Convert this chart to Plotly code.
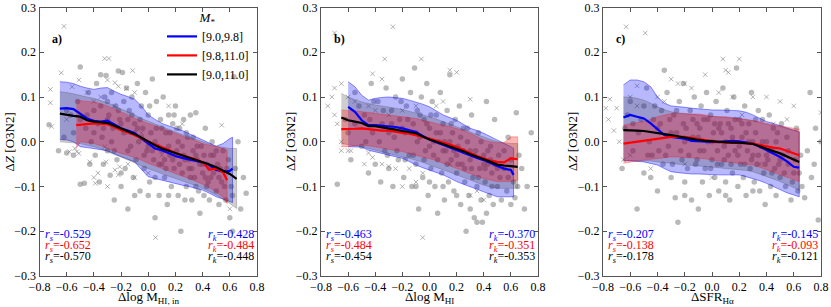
import plotly.graph_objects as go

# ---------------- data ----------------
ticks_x = [-0.8, -0.6, -0.4, -0.2, 0.0, 0.2, 0.4, 0.6, 0.8]
ticks_y = [-0.3, -0.2, -0.1, 0.0, 0.1, 0.2, 0.3]
legend_labels = ["[9.0,9.8]", "[9.8,11.0]", "[9.0,11.0]"]
x_titles = ["Δlog M<sub>HI, in</sub>", "Δlog M<sub>HI</sub>", "ΔSFR<sub>Hα</sub>"]
panel_tags = ["a)", "b)", "c)"]

# panel a  (running medians and 1-sigma bands)
a_blue_x = [-0.65,-0.6,-0.55,-0.5,-0.45,-0.4,-0.35,-0.3,-0.25,-0.2,-0.15,-0.1,-0.05,0.0,0.05,0.1,0.15,0.2,0.25,0.3,0.35,0.4,0.45,0.5,0.55,0.6,0.62]
a_blue_med = [0.074,0.075,0.073,0.062,0.052,0.047,0.045,0.047,0.038,0.030,0.025,0.019,0.007,-0.005,-0.015,-0.019,-0.025,-0.032,-0.036,-0.039,-0.042,-0.046,-0.052,-0.063,-0.067,-0.065,-0.060]
a_blue_hi = [0.134,0.133,0.130,0.124,0.120,0.117,0.120,0.121,0.113,0.106,0.101,0.095,0.080,0.060,0.050,0.041,0.036,0.030,0.025,0.019,0.012,0.004,-0.003,-0.010,-0.004,0.007,0.010]
a_blue_lo = [0.005,0.004,0.0,-0.011,-0.013,-0.015,-0.017,-0.020,-0.027,-0.033,-0.039,-0.045,-0.062,-0.078,-0.082,-0.086,-0.089,-0.093,-0.097,-0.100,-0.104,-0.108,-0.115,-0.123,-0.128,-0.134,-0.136]
a_red_x = [-0.53,-0.5,-0.45,-0.4,-0.35,-0.3,-0.25,-0.2,-0.15,-0.1,-0.05,0.0,0.05,0.1,0.15,0.2,0.25,0.3,0.35,0.4,0.45,0.5,0.55,0.58]
a_red_med = [0.037,0.038,0.040,0.041,0.040,0.039,0.033,0.026,0.021,0.015,0.008,0.0,-0.006,-0.011,-0.018,-0.025,-0.030,-0.034,-0.040,-0.046,-0.062,-0.060,-0.068,-0.086]
a_red_hi = [0.093,0.092,0.090,0.089,0.085,0.080,0.074,0.067,0.060,0.052,0.046,0.041,0.036,0.030,0.025,0.019,0.013,0.007,0.002,-0.004,-0.008,-0.011,-0.015,-0.019]
a_red_lo = [-0.015,0.0,-0.002,-0.004,-0.009,-0.015,-0.020,-0.026,-0.030,-0.035,-0.041,-0.048,-0.054,-0.060,-0.066,-0.071,-0.077,-0.082,-0.088,-0.095,-0.103,-0.112,-0.124,-0.138]
a_blk_x = [-0.65,-0.6,-0.55,-0.5,-0.45,-0.4,-0.35,-0.3,-0.25,-0.2,-0.15,-0.1,-0.05,0.0,0.05,0.1,0.15,0.2,0.25,0.3,0.35,0.4,0.45,0.5,0.55,0.6,0.65]
a_blk_med = [0.063,0.060,0.058,0.056,0.048,0.045,0.043,0.042,0.036,0.030,0.024,0.017,0.009,0.0,-0.008,-0.015,-0.020,-0.026,-0.031,-0.036,-0.041,-0.046,-0.051,-0.057,-0.064,-0.072,-0.083]
a_blk_hi = [0.112,0.110,0.107,0.104,0.100,0.097,0.092,0.087,0.081,0.074,0.067,0.060,0.052,0.045,0.040,0.034,0.028,0.022,0.016,0.011,0.005,0.0,-0.005,-0.010,-0.013,-0.015,-0.015]
a_blk_lo = [0.0,-0.001,-0.002,-0.004,-0.008,-0.011,-0.016,-0.022,-0.028,-0.034,-0.040,-0.047,-0.054,-0.060,-0.066,-0.071,-0.077,-0.082,-0.088,-0.093,-0.098,-0.104,-0.111,-0.119,-0.128,-0.138,-0.149]

# panel b
b_blue_x = [-0.6,-0.55,-0.5,-0.45,-0.4,-0.35,-0.3,-0.25,-0.2,-0.15,-0.1,-0.05,0.0,0.05,0.1,0.15,0.2,0.25,0.3,0.35,0.4,0.45,0.5,0.55,0.6,0.62]
b_blue_med = [0.078,0.067,0.048,0.037,0.037,0.036,0.035,0.033,0.030,0.026,0.022,0.013,0.005,-0.001,-0.007,-0.013,-0.019,-0.025,-0.030,-0.036,-0.041,-0.048,-0.054,-0.060,-0.063,-0.074]
b_blue_hi = [0.134,0.123,0.104,0.093,0.097,0.099,0.100,0.099,0.097,0.093,0.089,0.084,0.078,0.069,0.060,0.054,0.048,0.039,0.030,0.025,0.019,0.012,0.004,-0.004,-0.011,-0.015]
b_blue_lo = [-0.011,-0.011,-0.012,-0.019,-0.022,-0.026,-0.030,-0.034,-0.037,-0.044,-0.052,-0.058,-0.063,-0.069,-0.074,-0.081,-0.089,-0.095,-0.100,-0.106,-0.112,-0.118,-0.123,-0.123,-0.123,-0.123]
b_red_x = [-0.65,-0.6,-0.55,-0.5,-0.45,-0.4,-0.35,-0.3,-0.25,-0.2,-0.15,-0.1,-0.05,0.0,0.05,0.1,0.15,0.2,0.25,0.3,0.35,0.4,0.45,0.5,0.55,0.6,0.65]
b_red_med = [0.028,0.028,0.029,0.030,0.028,0.026,0.025,0.025,0.022,0.020,0.018,0.015,0.011,0.007,0.003,-0.002,-0.006,-0.011,-0.018,-0.026,-0.032,-0.037,-0.042,-0.045,-0.046,-0.037,-0.039]
b_red_hi = [0.071,0.070,0.069,0.067,0.065,0.063,0.061,0.060,0.058,0.056,0.054,0.052,0.049,0.045,0.041,0.037,0.034,0.030,0.025,0.019,0.012,0.004,0.0,-0.002,-0.002,0.011,0.011]
b_red_lo = [-0.011,-0.011,-0.009,-0.007,-0.009,-0.011,-0.014,-0.017,-0.019,-0.022,-0.026,-0.030,-0.033,-0.037,-0.042,-0.048,-0.054,-0.060,-0.066,-0.071,-0.077,-0.082,-0.086,-0.089,-0.089,-0.089,-0.086]
b_blk_x = [-0.65,-0.6,-0.55,-0.5,-0.45,-0.4,-0.35,-0.3,-0.25,-0.2,-0.15,-0.1,-0.05,0.0,0.05,0.1,0.15,0.2,0.25,0.3,0.35,0.4,0.45,0.5,0.55,0.6,0.65]
b_blk_med = [0.054,0.048,0.045,0.042,0.035,0.035,0.032,0.030,0.027,0.024,0.021,0.019,0.012,0.005,0.0,-0.005,-0.010,-0.015,-0.021,-0.028,-0.033,-0.039,-0.045,-0.051,-0.053,-0.054,-0.056]
b_blk_hi = [0.108,0.100,0.094,0.089,0.085,0.082,0.080,0.078,0.075,0.072,0.068,0.065,0.060,0.056,0.051,0.045,0.040,0.034,0.028,0.022,0.016,0.010,0.005,0.0,-0.002,-0.004,-0.004]
b_blk_lo = [-0.004,-0.006,-0.008,-0.011,-0.015,-0.019,-0.022,-0.026,-0.030,-0.034,-0.037,-0.041,-0.046,-0.052,-0.057,-0.063,-0.068,-0.074,-0.080,-0.086,-0.092,-0.097,-0.101,-0.104,-0.104,-0.104,-0.104]

# panel c
c_x = [-0.65,-0.6,-0.55,-0.5,-0.45,-0.4,-0.35,-0.3,-0.25,-0.2,-0.15,-0.1,-0.05,0.0,0.05,0.1,0.15,0.2,0.25,0.3,0.35,0.4,0.45,0.5,0.55,0.6,0.64]
c_blue_med = [0.054,0.060,0.056,0.052,0.041,0.028,0.015,0.011,0.009,0.007,0.002,0.001,0.001,0.0,-0.001,0.001,0.002,0.001,-0.001,-0.004,-0.011,-0.019,-0.026,-0.034,-0.044,-0.056,-0.058]
c_blue_hi = [0.127,0.138,0.138,0.134,0.123,0.100,0.086,0.080,0.078,0.077,0.075,0.074,0.072,0.071,0.071,0.071,0.070,0.069,0.066,0.060,0.053,0.045,0.041,0.037,0.032,0.026,0.022]
c_blue_lo = [-0.041,-0.043,-0.044,-0.045,-0.048,-0.052,-0.060,-0.067,-0.069,-0.071,-0.072,-0.072,-0.073,-0.074,-0.074,-0.074,-0.074,-0.074,-0.078,-0.082,-0.087,-0.093,-0.100,-0.108,-0.114,-0.119,-0.123]
c_red_med = [-0.004,-0.002,0.0,0.002,0.004,0.007,0.009,0.011,0.011,0.011,0.009,0.007,0.004,0.001,-0.001,-0.002,-0.002,-0.002,-0.003,-0.004,-0.007,-0.011,-0.013,-0.015,-0.020,-0.026,-0.030]
c_red_hi = [0.037,0.040,0.043,0.045,0.050,0.056,0.060,0.063,0.063,0.063,0.062,0.062,0.060,0.057,0.056,0.056,0.054,0.052,0.050,0.048,0.045,0.041,0.038,0.035,0.032,0.030,0.028]
c_red_lo = [-0.048,-0.045,-0.043,-0.041,-0.039,-0.037,-0.035,-0.034,-0.034,-0.035,-0.035,-0.036,-0.038,-0.041,-0.043,-0.045,-0.047,-0.048,-0.050,-0.052,-0.057,-0.062,-0.068,-0.074,-0.080,-0.086,-0.089]
c_blk_med = [0.026,0.026,0.025,0.024,0.022,0.019,0.017,0.015,0.012,0.009,0.006,0.004,0.002,0.001,0.0,-0.002,-0.002,-0.002,-0.003,-0.005,-0.010,-0.016,-0.021,-0.026,-0.033,-0.041,-0.045]
c_blk_hi = [0.100,0.100,0.097,0.093,0.086,0.078,0.072,0.067,0.065,0.063,0.061,0.060,0.058,0.056,0.055,0.054,0.053,0.052,0.050,0.047,0.043,0.039,0.036,0.034,0.030,0.025,0.022]
c_blk_lo = [-0.042,-0.042,-0.042,-0.042,-0.043,-0.045,-0.046,-0.048,-0.050,-0.052,-0.053,-0.054,-0.055,-0.057,-0.058,-0.060,-0.061,-0.062,-0.064,-0.067,-0.072,-0.077,-0.083,-0.089,-0.096,-0.104,-0.108]

# galaxies (circles) and crosses
a_circles = [(-0.73,0.038),(-0.66,-0.02),(-0.62,0.01),(-0.6,-0.025),(-0.57,0.06),(-0.55,-0.03),(-0.52,0.09),(-0.5,0.167),(-0.5,-0.095),(-0.47,-0.093),(-0.46,0.03),(-0.44,0.11),(-0.43,-0.05),(-0.42,0.0),(-0.4,0.07),(-0.39,-0.03),(-0.38,0.13),(-0.37,0.04),(-0.36,-0.09),(-0.35,0.15),(-0.34,0.01),(-0.33,-0.05),(-0.32,0.1),(-0.31,0.148),(-0.3,-0.02),(-0.29,0.06),(-0.28,-0.075),(-0.27,0.11),(-0.26,0.03),(-0.25,-0.13),(-0.24,0.08),(-0.23,-0.04),(-0.22,0.158),(-0.21,0.05),(-0.2,-0.1),(-0.19,0.155),(-0.18,0.02),(-0.17,-0.06),(-0.16,0.12),(-0.15,-0.15),(-0.14,0.07),(-0.13,-0.01),(-0.12,0.1),(-0.11,-0.08),(-0.1,0.04),(-0.09,-0.04),(-0.08,0.13),(-0.07,0.0),(-0.06,-0.11),(-0.05,0.08),(-0.04,0.03),(-0.03,-0.06),(-0.02,0.11),(-0.01,-0.02),(0.0,0.06),(0.01,-0.09),(0.02,0.02),(0.03,0.14),(0.04,-0.04),(0.05,-0.17),(0.06,0.09),(0.07,-0.01),(0.08,-0.12),(0.09,0.05),(0.1,-0.05),(0.11,0.1),(0.12,-0.08),(0.13,0.02),(0.14,-0.14),(0.15,0.06),(0.16,-0.03),(0.17,-0.1),(0.18,0.04),(0.19,-0.06),(0.2,0.08),(0.21,-0.02),(0.22,-0.12),(0.23,0.03),(0.24,-0.2),(0.25,-0.07),(0.26,0.05),(0.27,-0.04),(0.28,-0.1),(0.29,0.01),(0.3,-0.06),(0.31,0.06),(0.32,-0.13),(0.33,-0.02),(0.34,-0.08),(0.35,0.065),(0.36,-0.04),(0.37,-0.11),(0.38,-0.16),(0.39,-0.01),(0.4,-0.07),(0.41,-0.12),(0.42,0.03),(0.43,-0.05),(0.44,-0.09),(0.45,-0.13),(0.46,-0.03),(0.47,0.0),(0.48,-0.07),(0.5,-0.11),(0.51,-0.05),(0.52,-0.14),(0.54,-0.09),(0.55,-0.02),(0.57,-0.13),(0.58,-0.06),(0.6,-0.17),(0.61,-0.1),(0.63,0.145),(0.64,-0.06),(0.66,0.0),(0.68,-0.15),(0.7,-0.08),(0.72,-0.115),(0.62,-0.2),(-0.2,0.04),(-0.1,0.02),(0.0,-0.01),(0.1,-0.02),(0.2,-0.03),(0.3,-0.04),(0.4,-0.05),(-0.3,0.05),(0.05,0.0),(0.15,-0.01),(0.25,-0.01),(0.35,-0.03),(0.45,-0.06),(-0.15,0.05),(-0.05,0.01),(0.12,-0.04),(0.22,0.0),(0.32,-0.06),(0.42,-0.08),(0.52,-0.08),
             (-0.6,0.07),(-0.55,0.02),(-0.5,0.05),(-0.45,0.06),(-0.4,0.02),(-0.35,0.08),(-0.3,0.09),(-0.27,0.0),(-0.22,0.07),(-0.18,0.09),(-0.15,-0.02),(-0.12,0.06),(-0.08,0.03),(-0.06,0.05),(-0.03,-0.03),(0.01,0.08),(0.03,-0.02),(0.06,0.03),(0.08,-0.05),(0.1,0.03),(0.13,-0.06),(0.16,0.02),(0.18,-0.04),(0.21,0.03),(0.23,-0.05),(0.26,-0.03),(0.28,0.02),(0.31,-0.08),(0.33,0.01),(0.36,-0.01),(0.38,-0.05),(0.41,-0.03),(0.43,-0.1),(0.46,-0.08),(0.48,-0.03),(0.5,-0.02),(0.53,-0.06),(0.56,-0.1),(0.59,-0.04),(0.62,-0.12),(-0.1,-0.12),(0.0,-0.12),(0.05,-0.08),(0.15,-0.12),(0.27,-0.13),(0.35,-0.1),(-0.2,-0.07),(-0.25,-0.02),(-0.33,0.03),(0.19,0.06)]
a_crosses = [(-0.62,0.258),(-0.32,0.186),(-0.29,0.186),(-0.115,0.159),(-0.64,0.154),(-0.3,0.138),(-0.245,0.132),(-0.22,0.124),(-0.16,0.119),(-0.72,0.117),(-0.72,0.087),(-0.71,0.034),(-0.51,0.138),(-0.56,0.123),(-0.45,0.11),(-0.4,0.09),(-0.35,0.1),(-0.25,0.08),(-0.1,0.11),(0.25,0.04),(0.54,0.037),(0.054,-0.214),(-0.54,-0.015),(-0.525,-0.022),(-0.51,-0.026),(-0.58,-0.022),(-0.32,-0.011),(-0.31,-0.045),(-0.245,-0.063),(-0.21,-0.056),(-0.22,-0.074),(-0.37,-0.07),(-0.39,-0.093),(-0.3,-0.1),(-0.43,-0.045),(-0.4,-0.08),(-0.15,-0.05),(-0.1,-0.08),(0.0,-0.07),(0.1,-0.03),(-0.05,0.02),(0.6,-0.15),(0.15,0.08),(-0.6,0.05),(-0.15,0.02)]

b_circles = [(-0.68,-0.095),(-0.62,0.05),(-0.58,-0.04),(-0.55,0.11),(-0.5,-0.01),(-0.48,0.06),(-0.45,-0.07),(-0.43,0.13),(-0.42,0.02),(-0.4,-0.05),(-0.38,0.09),(-0.36,-0.09),(-0.35,0.04),(-0.33,-0.02),(-0.32,0.12),(-0.3,-0.06),(-0.28,0.07),(-0.27,-0.1),(-0.26,0.01),(-0.25,0.1),(-0.23,-0.04),(-0.22,0.05),(-0.2,0.14),(-0.19,-0.08),(-0.18,0.02),(-0.17,0.08),(-0.15,-0.03),(-0.14,0.11),(-0.13,-0.1),(-0.12,0.04),(-0.11,0.165),(-0.1,-0.05),(-0.09,0.07),(-0.08,-0.15),(-0.07,0.01),(-0.06,0.1),(-0.05,-0.08),(-0.04,0.05),(-0.03,-0.02),(-0.02,0.13),(-0.01,-0.12),(0.0,0.03),(0.01,-0.06),(0.02,0.09),(0.03,-0.03),(0.04,-0.1),(0.05,0.06),(0.06,-0.16),(0.07,0.0),(0.08,0.11),(0.09,-0.07),(0.1,0.04),(0.11,-0.13),(0.12,-0.02),(0.13,0.07),(0.14,-0.09),(0.15,0.15),(0.16,-0.04),(0.17,0.02),(0.18,-0.11),(0.19,0.05),(0.2,-0.07),(0.21,-0.01),(0.22,0.08),(0.23,-0.14),(0.24,-0.05),(0.25,0.03),(0.26,-0.09),(0.27,-0.2),(0.28,0.0),(0.29,-0.12),(0.3,-0.04),(0.31,0.06),(0.32,-0.08),(0.33,-0.17),(0.34,-0.02),(0.35,-0.1),(0.36,0.02),(0.37,-0.06),(0.38,-0.13),(0.39,-0.18),(0.4,-0.03),(0.41,-0.09),(0.42,0.09),(0.43,-0.05),(0.44,-0.12),(0.45,-0.01),(0.46,-0.07),(0.47,-0.14),(0.48,0.05),(0.5,-0.1),(0.51,-0.03),(0.53,-0.13),(0.55,-0.06),(0.57,-0.11),(0.58,0.01),(0.6,-0.14),(0.62,-0.09),(0.63,-0.125),(0.64,0.065),(0.66,-0.03),(0.68,-0.06),(0.7,-0.15),(0.72,-0.1),(0.75,0.02),(0.35,-0.18),(-0.2,0.03),(-0.1,0.02),(0.0,-0.01),(0.1,-0.02),(0.2,-0.03),(0.3,-0.02),(0.4,-0.05),(0.5,-0.06),(-0.3,0.02),(0.05,0.02),(0.15,0.0),(0.25,-0.02),(0.45,-0.04),
             (-0.6,0.02),(-0.55,0.04),(-0.52,0.08),(-0.47,0.0),(-0.44,0.05),(-0.41,0.09),(-0.37,0.0),(-0.34,0.07),(-0.31,-0.03),(-0.28,0.04),(-0.24,-0.02),(-0.21,0.09),(-0.18,-0.04),(-0.16,0.05),(-0.12,-0.03),(-0.09,0.0),(-0.07,0.06),(-0.04,-0.04),(-0.02,0.04),(0.01,0.06),(0.03,0.0),(0.06,-0.04),(0.08,0.02),(0.11,0.0),(0.13,-0.05),(0.16,0.04),(0.18,-0.02),(0.21,-0.05),(0.23,0.01),(0.26,-0.06),(0.28,0.03),(0.31,-0.06),(0.33,-0.03),(0.36,-0.08),(0.38,0.0),(0.41,-0.06),(0.43,-0.02),(0.46,-0.1),(0.48,-0.05),(0.52,-0.08),(0.55,-0.02),(0.58,-0.08),(0.6,-0.04),(0.65,-0.1),(0.0,-0.09),(0.1,-0.1),(0.2,-0.12),(-0.1,-0.1),(0.3,-0.15),(0.42,-0.16)]
b_crosses = [(-0.27,0.257),(-0.7,0.243),(-0.33,0.185),(-0.06,0.185),(0.2,0.155),(0.15,0.16),(-0.42,0.152),(-0.35,0.14),(-0.72,0.1),(-0.75,0.08),(-0.7,0.06),(-0.68,0.04),(-0.7,0.12),(-0.65,0.13),(-0.6,0.1),(-0.55,0.09),(-0.45,0.08),(-0.4,0.07),(-0.3,0.06),(-0.2,0.07),(-0.1,0.08),(0.05,0.08),(0.1,0.09),(0.3,0.095),(-0.05,-0.214),(-0.58,-0.02),(-0.6,-0.02),(-0.65,-0.02),(-0.45,-0.025),(-0.42,-0.035),(-0.35,-0.05),(-0.3,-0.055),(-0.25,-0.06),(-0.15,-0.06),(-0.05,-0.07),(-0.48,-0.05),(-0.2,-0.1),(-0.1,-0.09),(0.3,-0.12),(0.4,-0.13),(0.35,-0.11),(0.15,-0.05),(-0.65,0.0)]

c_circles = [(-0.66,-0.06),(-0.64,0.03),(-0.6,0.09),(-0.58,-0.02),(-0.55,-0.15),(-0.52,0.05),(-0.5,-0.07),(-0.48,0.12),(-0.46,0.0),(-0.44,-0.03),(-0.42,0.08),(-0.4,-0.11),(-0.38,0.04),(-0.36,-0.05),(-0.35,0.16),(-0.33,0.11),(-0.32,-0.01),(-0.3,-0.08),(-0.28,0.06),(-0.27,-0.125),(-0.26,0.02),(-0.25,-0.18),(-0.24,0.09),(-0.22,-0.04),(-0.21,0.13),(-0.2,-0.09),(-0.19,0.03),(-0.18,-0.06),(-0.16,0.07),(-0.15,-0.13),(-0.14,0.01),(-0.13,0.1),(-0.12,-0.05),(-0.11,0.04),(-0.1,-0.15),(-0.09,-0.02),(-0.08,0.08),(-0.07,-0.09),(-0.06,0.05),(-0.05,-0.06),(-0.04,0.11),(-0.03,0.0),(-0.02,-0.12),(-0.01,0.06),(0.0,-0.04),(0.01,0.02),(0.02,-0.08),(0.03,0.09),(0.04,-0.02),(0.05,-0.11),(0.06,0.04),(0.07,-0.05),(0.08,0.12),(0.09,-0.01),(0.1,-0.09),(0.11,0.07),(0.12,-0.03),(0.13,-0.13),(0.14,0.03),(0.15,-0.07),(0.16,0.1),(0.17,-0.02),(0.18,0.165),(0.19,-0.1),(0.2,0.05),(0.21,-0.05),(0.22,0.01),(0.23,-0.08),(0.24,0.08),(0.25,-0.12),(0.26,-0.02),(0.27,0.04),(0.28,-0.06),(0.29,0.11),(0.3,-0.03),(0.31,-0.09),(0.32,0.02),(0.33,-0.05),(0.34,0.07),(0.35,-0.11),(0.36,-0.01),(0.37,0.05),(0.38,-0.07),(0.39,-0.14),(0.4,0.0),(0.41,-0.04),(0.42,0.06),(0.43,-0.1),(0.44,-0.02),(0.45,0.03),(0.46,-0.06),(0.47,-0.12),(0.48,0.02),(0.5,-0.08),(0.51,0.04),(0.52,-0.03),(0.54,-0.1),(0.55,0.01),(0.56,-0.05),(0.58,-0.13),(0.6,-0.07),(0.62,0.03),(0.63,-0.11),(0.65,-0.03),(0.66,-0.1),(0.68,-0.125),(0.7,-0.02),(0.72,0.11),(0.73,-0.08),(0.75,-0.05),(0.78,-0.175),(0.8,0.0),(0.76,0.03),(-0.2,0.0),(-0.1,0.01),(0.0,0.0),(0.1,0.0),(0.2,-0.01),(0.3,0.0),(0.4,-0.03),(0.5,-0.04),(-0.3,0.02),(-0.4,0.03),(0.05,0.03),(0.15,0.01),(0.25,0.02),
             (-0.62,0.06),(-0.58,0.04),(-0.54,0.02),(-0.5,0.08),(-0.47,-0.03),(-0.43,0.05),(-0.39,-0.02),(-0.37,0.07),(-0.34,-0.03),(-0.31,0.05),(-0.29,-0.05),(-0.26,0.07),(-0.23,-0.02),(-0.21,0.04),(-0.17,-0.03),(-0.14,0.05),(-0.11,-0.04),(-0.09,0.03),(-0.06,-0.02),(-0.03,0.05),(-0.01,-0.06),(0.02,0.04),(0.04,-0.05),(0.07,0.02),(0.09,-0.04),(0.12,0.04),(0.14,-0.05),(0.17,0.05),(0.19,-0.03),(0.22,0.04),(0.24,-0.05),(0.27,0.0),(0.29,-0.04),(0.32,0.05),(0.34,-0.03),(0.37,0.0),(0.39,-0.05),(0.42,-0.02),(0.44,-0.07),(0.47,0.0),(0.49,-0.05),(0.53,-0.07),(0.56,-0.02),(0.59,-0.09),(0.61,-0.04),(0.64,-0.07),(-0.45,-0.08),(-0.2,-0.12),(0.1,-0.12),(0.3,-0.11)]
c_crosses = [(-0.63,0.257),(-0.49,0.243),(0.08,0.185),(0.2,0.185),(-0.05,0.15),(0.1,0.16),(0.12,0.155),(-0.3,0.14),(-0.25,0.13),(-0.2,0.13),(-0.15,0.12),(-0.55,0.125),(-0.4,0.1),(-0.35,0.09),(-0.75,0.095),(-0.78,0.075),(-0.76,0.05),(-0.7,0.075),(-0.6,0.1),(-0.55,0.08),(-0.72,0.025),(0.05,0.11),(0.15,0.1),(0.3,0.1),(0.4,0.1),(0.5,0.09),(0.6,0.08),(0.45,0.04),(0.55,0.05),(0.8,0.065),(0.22,0.06),(-0.68,0.0),(-0.65,-0.04),(-0.6,-0.03),(-0.45,-0.06),(-0.2,-0.05),(0.0,-0.08),(0.35,-0.05)]

# correlation coefficients
rs_vals = [["-0.529", "-0.652", "-0.570"], ["-0.463", "-0.484", "-0.454"], ["-0.207", "-0.138", "-0.178"]]
rk_vals = [["-0.428", "-0.484", "-0.448"], ["-0.370", "-0.351", "-0.353"], ["-0.145", "-0.093", "-0.121"]]

# ---------------- styling ----------------
W, H = 831, 307
FONT = "Liberation Serif"
x_dom_px = [(39.5, 257.0), (321.0, 538.0), (603.0, 821.0)]
y_dom_px = (7.5, 276.0)
line_cols = ["#0000ff", "#ff0000", "#000000"]
fill_cols = ["rgba(0,0,255,0.28)", "rgba(255,0,0,0.28)", "rgba(60,60,60,0.25)"]
edge_cols = ["rgba(0,0,255,0.55)", "rgba(255,0,0,0.35)", "rgba(60,60,60,0.3)"]

panels = [
    dict(circ=a_circles, cross=a_crosses,
         series=[(a_blue_x, a_blue_med, a_blue_lo, a_blue_hi),
                 (a_red_x, a_red_med, a_red_lo, a_red_hi),
                 (a_blk_x, a_blk_med, a_blk_lo, a_blk_hi)]),
    dict(circ=b_circles, cross=b_crosses,
         series=[(b_blue_x, b_blue_med, b_blue_lo, b_blue_hi),
                 (b_red_x, b_red_med, b_red_lo, b_red_hi),
                 (b_blk_x, b_blk_med, b_blk_lo, b_blk_hi)]),
    dict(circ=c_circles, cross=c_crosses,
         series=[(c_x, c_blue_med, c_blue_lo, c_blue_hi),
                 (c_x, c_red_med, c_red_lo, c_red_hi),
                 (c_x, c_blk_med, c_blk_lo, c_blk_hi)]),
]

fig = go.Figure()
band_order = [0, 2, 1]
for i, p in enumerate(panels):
    xa = "x" if i == 0 else f"x{i+1}"
    ya = "y" if i == 0 else f"y{i+1}"
    fig.add_trace(go.Scatter(x=[c[0] for c in p["circ"]], y=[c[1] for c in p["circ"]],
                             mode="markers", xaxis=xa, yaxis=ya, showlegend=False,
                             marker=dict(symbol="circle", size=5.5, color="rgba(128,128,128,0.55)",
                                         line=dict(width=0))))
    fig.add_trace(go.Scatter(x=[c[0] for c in p["cross"]], y=[c[1] for c in p["cross"]],
                             mode="markers", xaxis=xa, yaxis=ya, showlegend=False,
                             marker=dict(symbol="x-thin", size=4.5,
                                         line=dict(width=1, color="rgba(128,128,128,0.6)"))))
    for k in band_order:
        sx, smed, slo, shi = p["series"][k]
        fig.add_trace(go.Scatter(x=list(sx) + list(sx)[::-1], y=list(slo) + list(shi)[::-1],
                                 mode="lines", fill="toself", fillcolor=fill_cols[k],
                                 line=dict(color=edge_cols[k], width=0.8),
                                 xaxis=xa, yaxis=ya, showlegend=False, hoverinfo="skip"))
    for k in range(3):
        sx, smed, slo, shi = p["series"][k]
        fig.add_trace(go.Scatter(x=sx, y=smed, mode="lines", xaxis=xa, yaxis=ya,
                                 line=dict(color=line_cols[k], width=2.2),
                                 name=legend_labels[k], showlegend=(i == 0)))

ann = []
for i in range(3):
    xa = "x" if i == 0 else f"x{i+1}"
    ya = "y" if i == 0 else f"y{i+1}"
    ann.append(dict(text=f"<b>{panel_tags[i]}</b>", x=-0.72, y=0.229, xref=xa, yref=ya,
                    xanchor="left", yanchor="middle", showarrow=False,
                    font=dict(family=FONT, size=12, color="black")))
    for j in range(3):
        yy = -0.208 - 0.0245 * j
        ann.append(dict(text=f"<i>r<sub>s</sub></i>={rs_vals[i][j]}", x=-0.775, y=yy,
                        xref=xa, yref=ya, xanchor="left", yanchor="middle", showarrow=False,
                        font=dict(family=FONT, size=12, color=line_cols[j])))
        ann.append(dict(text=f"<i>r<sub>k</sub></i>={rk_vals[i][j]}", x=0.79, y=yy,
                        xref=xa, yref=ya, xanchor="right", yanchor="middle", showarrow=False,
                        font=dict(family=FONT, size=12, color=line_cols[j])))
    x0, x1 = x_dom_px[i]
    ann.append(dict(text=x_titles[i], x=(x0 + x1) / 2 / W, y=1 - 297 / H, xref="paper", yref="paper",
                    xanchor="center", yanchor="middle", showarrow=False,
                    font=dict(family=FONT, size=13, color="black")))
    ann.append(dict(text="Δ<i>Z</i> [O3N2]", x=(x0 - 31) / W, y=1 - 142 / H, xref="paper", yref="paper",
                    xanchor="center", yanchor="middle", textangle=-90, showarrow=False,
                    font=dict(family=FONT, size=13, color="black")))

axis_common = dict(showline=True, linecolor="#555555", linewidth=1, mirror="ticks",
                   ticks="inside", ticklen=4, tickwidth=1, tickcolor="#555555",
                   showgrid=False, zeroline=False,
                   tickfont=dict(family=FONT, size=12, color="black"))
layout = dict(autosize=True, margin=dict(l=0, r=0, t=0, b=0, autoexpand=False),
              paper_bgcolor="white", plot_bgcolor="white", annotations=ann,
              legend=dict(x=162 / W, y=1 - 5 / H, xanchor="left", yanchor="top",
                          bgcolor="rgba(0,0,0,0)", font=dict(family=FONT, size=12, color="black"),
                          title=dict(text="<i>M</i><sub>*</sub>", side="top center",
                                     font=dict(family=FONT, size=13, color="black")),
                          tracegroupgap=0, itemwidth=30))
for i in range(3):
    x0, x1 = x_dom_px[i]
    xk = "xaxis" if i == 0 else f"xaxis{i+1}"
    yk = "yaxis" if i == 0 else f"yaxis{i+1}"
    layout[xk] = dict(domain=[x0 / W, x1 / W], range=[-0.8, 0.8], tickvals=ticks_x,
                      tickformat=".1f", anchor="y" if i == 0 else f"y{i+1}", **axis_common)
    layout[yk] = dict(domain=[1 - y_dom_px[1] / H, 1 - y_dom_px[0] / H], range=[-0.3, 0.3],
                      tickvals=ticks_y, tickformat=".1f", anchor="x" if i == 0 else f"x{i+1}",
                      **axis_common)
fig.update_layout(**layout)
# the page's default body margin is avoided by pinning the plot div to the page corner
fig.write_html("out.html",
               default_width="831px; position:absolute; left:0px; top:0px",
               default_height="307px",
               config={"displayModeBar": False, "responsive": False})
